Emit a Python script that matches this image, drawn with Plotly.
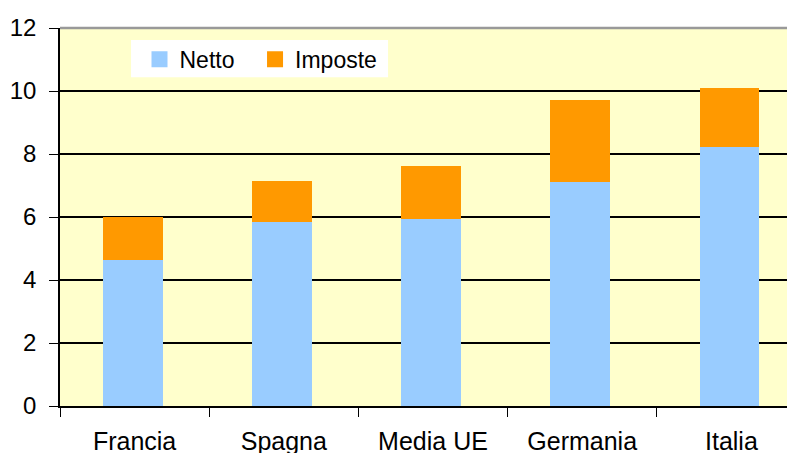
import plotly.graph_objects as go

categories = ["Francia", "Spagna", "Media UE", "Germania", "Italia"]
netto = [4.63, 5.85, 5.94, 7.12, 8.22]
imposte = [1.37, 1.29, 1.68, 2.59, 1.88]
y_ticks = [0, 2, 4, 6, 8, 10, 12]
series_names = ["Netto", "Imposte"]
series_colors = ["#99CCFF", "#FF9900"]

FONT = "Liberation Sans, Arial, sans-serif"

fig = go.Figure()
for name, vals, col in zip(series_names, [netto, imposte], series_colors):
    fig.add_trace(go.Bar(x=categories, y=vals, name=name, showlegend=False,
                         width=0.4, offset=-0.213,
                         marker=dict(color=col, line=dict(width=0))))
# legend-only entries with larger square symbols, one legend each
for name, col, lg in zip(series_names, series_colors, ["legend", "legend2"]):
    fig.add_trace(go.Scatter(x=[None], y=[None], mode="markers", name=name,
                             legend=lg,
                             marker=dict(symbol="square", size=17, color=col,
                                         line=dict(width=0))))

legend_common = dict(orientation="h", y=0.974, xanchor="left", yanchor="top",
                     bgcolor="rgba(0,0,0,0)", font=dict(size=23),
                     itemsizing="trace", itemwidth=30)

fig.update_layout(
    width=795, height=453,
    margin=dict(l=52, r=0, t=20, b=55, autoexpand=False),
    barmode="stack",
    plot_bgcolor="#FFFFCC", paper_bgcolor="white",
    font=dict(family=FONT, size=24, color="black"),
    legend=dict(x=0.107, **legend_common),
    legend2=dict(x=0.2625, **legend_common),
    xaxis=dict(type="category", range=[-0.5, 4.48], tickson="boundaries",
               ticks="outside", ticklen=9, tickcolor="black", tickwidth=1,
               showline=True, linecolor="black", linewidth=1.5,
               showgrid=False, ticklabelstandoff=12, automargin=False,
               tickfont=dict(size=25)),
    yaxis=dict(range=[0, 12], tickvals=y_ticks, ticks="outside", ticklen=9,
               tickcolor="black", tickwidth=1, showline=True, linecolor="black",
               linewidth=1.5, showgrid=True, gridcolor="black", gridwidth=1.5,
               zeroline=False, ticklabelstandoff=8, automargin=False,
               tickfont=dict(size=24)),
    shapes=[
        dict(type="line", xref="paper", yref="paper", x0=0, x1=1, y0=1, y1=1,
             line=dict(color="#999999", width=2.5)),
        dict(type="rect", xref="paper", yref="paper", x0=0.0956, x1=0.4415,
             y0=0.870, y1=0.968, fillcolor="white", line=dict(width=0),
             layer="above"),
    ],
)

fig.write_html("out.html")
